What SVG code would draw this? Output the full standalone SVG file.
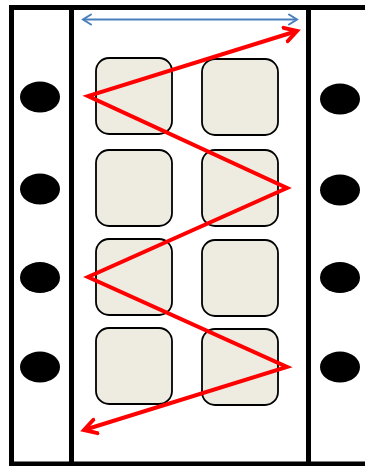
<svg xmlns="http://www.w3.org/2000/svg" width="365" height="466" viewBox="0 0 365 466">
  <style>
    .frame { fill: none; stroke: #000; stroke-width: 5; }
    .cell { fill: #EEECE1; stroke: #000; stroke-width: 1.8; }
    .hole { fill: #000; }
    .red { fill: none; stroke: #FF0000; stroke-width: 4; stroke-linejoin: miter; }
    .blue { fill: none; stroke: #4A7EBB; stroke-width: 2; }
  </style>
  <defs>
    <marker id="redHead" viewBox="0 0 20 20" refX="14" refY="10" markerWidth="20" markerHeight="20" markerUnits="userSpaceOnUse" orient="auto-start-reverse">
      <path d="M2,3 L14,10 L2,17" fill="none" stroke="#FF0000" stroke-width="4" stroke-linecap="round"/>
    </marker>
    <marker id="blueHead" viewBox="0 0 14 14" refX="11" refY="7" markerWidth="14" markerHeight="14" markerUnits="userSpaceOnUse" orient="auto-start-reverse">
      <path d="M3,2 L11,7 L3,12" fill="none" stroke="#4A7EBB" stroke-width="2" stroke-linecap="round"/>
    </marker>
  </defs>

  <g id="frame">
    <path class="frame" d="M370,7.5 L11.5,7.5 L11.5,464 L370,464"/>
    <line class="frame" x1="71.5" y1="7.5" x2="71.5" y2="464"/>
    <line class="frame" x1="308.5" y1="7.5" x2="308.5" y2="464"/>
  </g>

  <g id="holes-left">
    <ellipse class="hole" cx="40" cy="97" rx="20" ry="15.5"/>
    <ellipse class="hole" cx="40" cy="189" rx="20" ry="15.5"/>
    <ellipse class="hole" cx="40" cy="277.5" rx="20" ry="15.5"/>
    <ellipse class="hole" cx="40" cy="367" rx="20" ry="15.5"/>
  </g>
  <g id="holes-right">
    <ellipse class="hole" cx="340" cy="99" rx="20" ry="15.5"/>
    <ellipse class="hole" cx="340" cy="190" rx="20" ry="15.5"/>
    <ellipse class="hole" cx="340" cy="277.5" rx="20" ry="15.5"/>
    <ellipse class="hole" cx="340" cy="367" rx="20" ry="15.5"/>
  </g>

  <g id="cell-1-1"><rect class="cell" x="96" y="58" width="76" height="76" rx="13"/></g>
  <g id="cell-1-2"><rect class="cell" x="202" y="59" width="76" height="76" rx="13"/></g>
  <g id="cell-2-1"><rect class="cell" x="96" y="150" width="76" height="76" rx="13"/></g>
  <g id="cell-2-2"><rect class="cell" x="202" y="150" width="76" height="76" rx="13"/></g>
  <g id="cell-3-1"><rect class="cell" x="96" y="239" width="76" height="76" rx="13"/></g>
  <g id="cell-3-2"><rect class="cell" x="202" y="240" width="76" height="76" rx="13"/></g>
  <g id="cell-4-1"><rect class="cell" x="96" y="328" width="76" height="76" rx="13"/></g>
  <g id="cell-4-2"><rect class="cell" x="202" y="329" width="76" height="76" rx="13"/></g>

  <g id="connectors">
    <line class="blue" x1="83" y1="19.5" x2="297" y2="19.5" marker-start="url(#blueHead)" marker-end="url(#blueHead)"/>
    <path class="red" d="M297,31 L88,96 L287,188 L88,277 L287,367 L84,430" marker-start="url(#redHead)" marker-end="url(#redHead)"/>
  </g>
</svg>
